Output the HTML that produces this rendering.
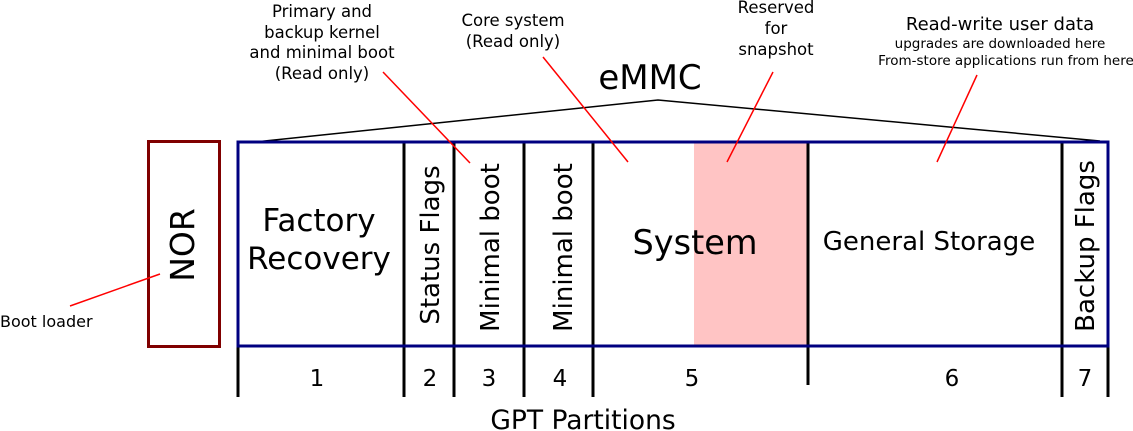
<!DOCTYPE html>
<html><head><meta charset="utf-8"><style>
html,body{margin:0;padding:0;background:#fff;}
svg{display:block;font-family:"DejaVu Sans","Liberation Sans",sans-serif;}
</style></head><body>
<svg width="1133" height="431" viewBox="0 0 1133 431" xmlns="http://www.w3.org/2000/svg">
<rect x="694" y="142" width="114" height="204" fill="#ffc4c4"/>
<g stroke="#000" stroke-width="3" fill="none">
<line x1="404" y1="142" x2="404" y2="397"/>
<line x1="454" y1="142" x2="454" y2="397"/>
<line x1="524" y1="142" x2="524" y2="397"/>
<line x1="593" y1="142" x2="593" y2="397"/>
<line x1="808" y1="142" x2="808" y2="385"/>
<line x1="1062" y1="142" x2="1062" y2="397"/>
<line x1="238" y1="346" x2="238" y2="397"/>
<line x1="1108" y1="346" x2="1108" y2="397"/>
</g>
<polyline points="255,142 658,100 1100,141" stroke="#000" stroke-width="1.5" fill="none"/>
<rect x="238" y="142" width="870" height="204" fill="none" stroke="#000080" stroke-width="3"/>
<rect x="148.5" y="141.5" width="71" height="205" fill="none" stroke="#800000" stroke-width="3"/>
<g stroke="#f00" stroke-width="1.5">
<line x1="70" y1="306" x2="160" y2="274"/>
<line x1="383" y1="72" x2="470" y2="163"/>
<line x1="543" y1="57" x2="628" y2="162"/>
<line x1="773" y1="72" x2="727" y2="162"/>
<line x1="977" y1="75" x2="937" y2="162"/>
</g>
<g fill="#000" text-anchor="middle">
<text x="650" y="89" font-size="34">eMMC</text>
<text x="322" y="17" font-size="16.5">Primary and</text>
<text x="322" y="38" font-size="16.5">backup kernel</text>
<text x="322" y="58" font-size="16.5">and minimal boot</text>
<text x="322" y="79" font-size="16.5">(Read only)</text>
<text x="513" y="26" font-size="16.5">Core system</text>
<text x="513" y="47" font-size="16.5">(Read only)</text>
<text x="776" y="13" font-size="16.5">Reserved</text>
<text x="776" y="34" font-size="16.5">for</text>
<text x="776" y="55" font-size="16.5">snapshot</text>
<text x="1000" y="30" font-size="18">Read-write user data</text>
<text x="1000" y="48" font-size="13.5">upgrades are downloaded here</text>
<text x="1006" y="65" font-size="13.5">From-store applications run from here</text>
<text x="319" y="231" font-size="31">Factory</text>
<text x="319" y="269" font-size="31">Recovery</text>
<text x="695" y="254" font-size="33.5">System</text>
<text x="929" y="250" font-size="26">General Storage</text>
<text transform="translate(194,245) rotate(-90)" font-size="33">NOR</text>
<text transform="translate(439,245) rotate(-90)" font-size="26">Status Flags</text>
<text transform="translate(499,247.5) rotate(-90)" font-size="26">Minimal boot</text>
<text transform="translate(572,247.5) rotate(-90)" font-size="26">Minimal boot</text>
<text transform="translate(1094,246) rotate(-90)" font-size="26">Backup Flags</text>
<text x="317" y="386" font-size="23">1</text>
<text x="430" y="386" font-size="23">2</text>
<text x="489" y="386" font-size="23">3</text>
<text x="560" y="386" font-size="23">4</text>
<text x="692" y="386" font-size="23">5</text>
<text x="952" y="386" font-size="23">6</text>
<text x="1085" y="386" font-size="23">7</text>
<text x="583" y="429" font-size="26.5">GPT Partitions</text>
<text x="0" y="327" font-size="16" text-anchor="start">Boot loader</text>
</g>
</svg>
</body></html>
